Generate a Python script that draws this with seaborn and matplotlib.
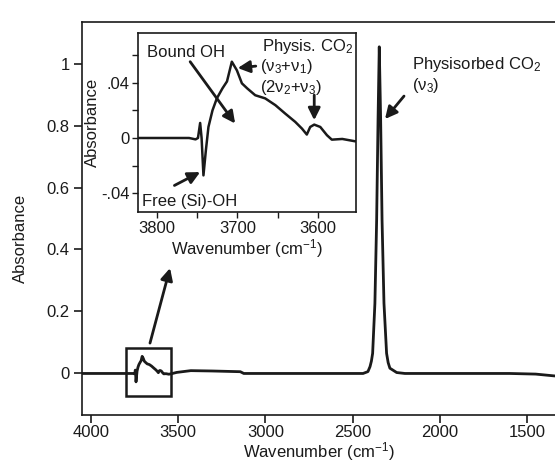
import matplotlib
matplotlib.use("Agg")
import matplotlib.pyplot as plt
import seaborn as sns
import pandas as pd
from matplotlib.patches import Rectangle

# ---- data ----
wavenumber = [4052, 3950, 3850, 3780, 3760, 3752, 3749, 3746.3, 3744.5, 3742.2,
              3739.2, 3736, 3731, 3725.6, 3718.6, 3713, 3707, 3700.7, 3694.5,
              3688, 3678, 3665.6, 3653, 3640.8, 3628.4, 3620, 3614, 3609.8,
              3604.8, 3597.3, 3589, 3583, 3570, 3554, 3540, 3509, 3428, 3306,
              3144, 3124, 2800, 2440, 2412, 2400, 2392, 2385, 2372, 2362, 2354,
              2347, 2339, 2331, 2320, 2305, 2296, 2286, 2247, 2200, 1600, 1450,
              1340]
absorbance = [0.0, 0.0, 0.0, 0.0, 0.0, -0.001, 0.0, 0.0109, 0.0, -0.0271,
              -0.009, 0.008, 0.020, 0.0287, 0.036, 0.041, 0.0553, 0.049, 0.0396,
              0.036, 0.031, 0.0287, 0.0238, 0.0177, 0.0117, 0.0068, 0.0025, 0.008,
              0.0097, 0.008, 0.002, -0.0012, -0.0007, -0.0024, -0.001, 0.0034,
              0.0091, 0.008, 0.0057, 0.0, 0.0, 0.0, 0.006, 0.022, 0.040, 0.065,
              0.226, 0.495, 0.818, 1.054, 0.818, 0.495, 0.227, 0.065, 0.035,
              0.017, 0.003, 0.0, 0.0, -0.002, -0.008]

main_xticks = [4000, 3500, 3000, 2500, 2000, 1500]
main_yticks = [0, 0.2, 0.4, 0.6, 0.8, 1.0]
main_yticklabels = ["0", "0.2", "0.4", "0.6", "0.8", "1"]
inset_xticks = [3800, 3700, 3600]
inset_xminor = [3750, 3650]
inset_yticks = [0.04, 0.0, -0.04]
inset_yticklabels = [".04", "0", "-.04"]
inset_yminor = [0.06, 0.02, -0.02]

df = pd.DataFrame({"wn": wavenumber, "A": absorbance})

sns.set_style("ticks")
plt.rcParams["font.family"] = ["Liberation Sans", "DejaVu Sans"]
plt.rcParams["mathtext.fontset"] = "custom"
plt.rcParams["mathtext.rm"] = "Liberation Sans"
plt.rcParams["mathtext.it"] = "Liberation Sans:italic"
plt.rcParams["mathtext.bf"] = "Liberation Sans:bold"
plt.rcParams["font.size"] = 12

W, H = 555, 469
fig = plt.figure(figsize=(W / 100, H / 100), dpi=100)

def px_rect(l, t, r, b):
    return [l / W, 1 - b / H, (r - l) / W, (b - t) / H]

ink = "#1a1a1a"

# ---- main axes ----
ax = fig.add_axes(px_rect(82, 22, 555, 415))
sns.lineplot(data=df, x="wn", y="A", ax=ax, color=ink, lw=2.0, sort=False,
             estimator=None)
ax.set_xlim(4052, 1339)
ax.set_ylim(-0.134, 1.134)
ax.set_xticks(main_xticks)
ax.set_xticklabels([str(v) for v in main_xticks], fontsize=12)
ax.set_yticks(main_yticks)
ax.set_yticklabels(main_yticklabels, fontsize=12)
ax.tick_params(direction="out", length=6, width=1.2, color=ink, labelcolor=ink, pad=3)
ax.tick_params(axis="x", pad=1.5)
for s in ["left", "bottom", "top"]:
    ax.spines[s].set_color(ink)
    ax.spines[s].set_linewidth(1.2)
ax.spines["right"].set_visible(False)
ax.set_xlabel("Wavenumber (cm$^{-1}$)", fontsize=12, color=ink, labelpad=0)
ax.set_ylabel("Absorbance", fontsize=12, color=ink)
ax.yaxis.set_label_coords(-0.115, 0.45)

# box marking the inset region
ax.add_patch(Rectangle((3801, -0.0739), 3543 - 3801, 0.0832 + 0.0739,
                       fill=False, ec=ink, lw=1.8, zorder=5))
arrow = dict(arrowstyle="-|>,head_length=0.6,head_width=0.3", color=ink, lw=2.0,
             shrinkA=0, shrinkB=0)
ax.annotate("", xy=(3547, 0.340), xytext=(3662, 0.098), arrowprops=arrow)
ax.annotate("", xy=(2314, 0.821), xytext=(2205, 0.895), arrowprops=arrow)
ax.text(2161, 0.982, "Physisorbed CO$_2$", fontsize=12, color=ink, va="baseline")
ax.text(2161, 0.915, "(ν$_3$)", fontsize=12, color=ink, va="baseline")

# ---- inset axes ----
ins = fig.add_axes(px_rect(138.3, 33, 356, 212.5))
sns.lineplot(data=df, x="wn", y="A", ax=ins, color=ink, lw=1.8, sort=False,
             estimator=None)
ins.set_xlim(3823, 3553)
ins.set_ylim(-0.054, 0.0761)
ins.set_xticks(inset_xticks)
ins.set_xticklabels([str(v) for v in inset_xticks], fontsize=12)
ins.set_xticks(inset_xminor, minor=True)
ins.set_yticks(inset_yticks)
ins.set_yticklabels(inset_yticklabels, fontsize=12)
ins.set_yticks(inset_yminor, minor=True)
ins.tick_params(which="both", direction="out", length=4, width=1.0, color=ink,
                labelcolor=ink, pad=2)
for s in ins.spines.values():
    s.set_color(ink)
    s.set_linewidth(1.2)
ins.set_xlabel("Wavenumber (cm$^{-1}$)", fontsize=12, color=ink, labelpad=1)
ins.set_ylabel("Absorbance", fontsize=12, color=ink, labelpad=1)

ins.annotate("", xy=(3702.9, 0.0105), xytext=(3758.7, 0.0553), arrowprops=arrow)
ins.annotate("", xy=(3746.3, -0.0247), xytext=(3778.2, -0.0344), arrowprops=arrow)
ins.annotate("", xy=(3699.7, 0.0507), xytext=(3677.3, 0.0521), arrowprops=arrow)
ins.annotate("", xy=(3604.8, 0.0129), xytext=(3604.8, 0.0311), arrowprops=arrow)
ins.text(3812.4, 0.0589, "Bound OH", fontsize=12, color=ink, va="baseline")
ins.text(3817.9, -0.0495, "Free (Si)-OH", fontsize=12, color=ink, va="baseline")
ins.text(3669, 0.0633, "Physis. CO$_2$", fontsize=12, color=ink, va="baseline")
ins.text(3671.8, 0.0485, "(ν$_3$+ν$_1$)", fontsize=12, color=ink, va="baseline")
ins.text(3671.8, 0.0335, "(2ν$_2$+ν$_3$)", fontsize=12, color=ink, va="baseline")

fig.savefig("out.png", dpi=100)
